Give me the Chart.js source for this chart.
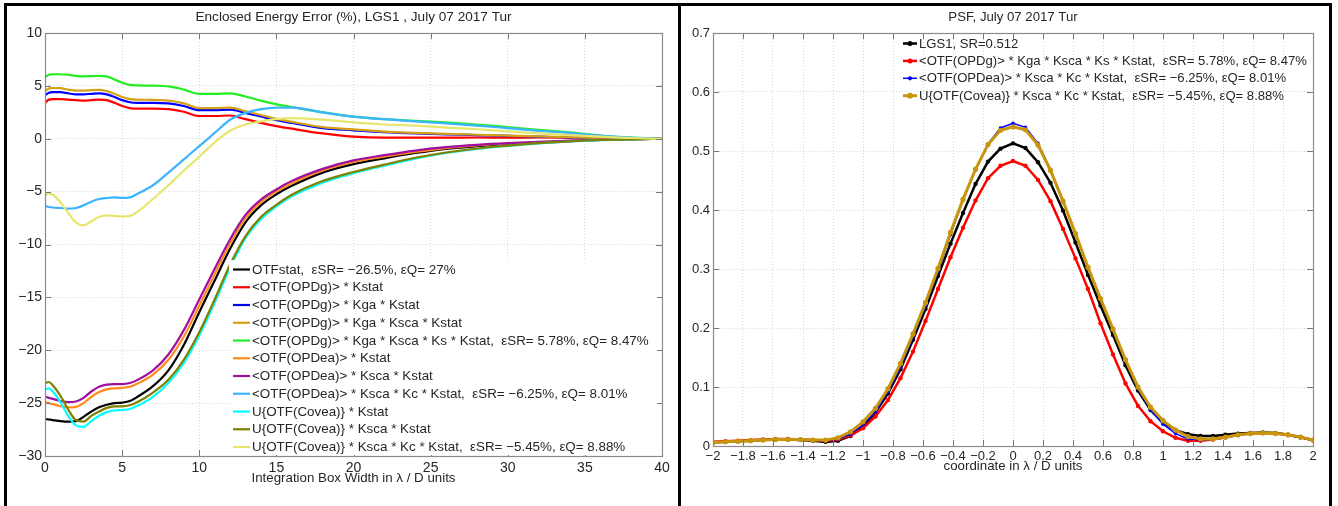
<!DOCTYPE html>
<html>
<head>
<meta charset="utf-8">
<script src="https://cdn.jsdelivr.net/npm/chart.js@4.4.1/dist/chart.umd.min.js"></script>
<style>
html,body{margin:0;padding:0;background:#fff;}
body{width:1338px;height:506px;position:relative;overflow:hidden;}
#frame{position:absolute;left:4px;top:3px;width:1322px;height:520px;border:3px solid #000;}
#divider{position:absolute;left:678px;top:3px;width:3px;height:510px;background:#000;}
#eeChart{position:absolute;left:0;top:0;}
#psfChart{position:absolute;left:681px;top:0;}
</style>
</head>
<body>
<div id="frame"></div>
<div id="divider"></div>
<canvas id="eeChart" width="678" height="506"></canvas>
<canvas id="psfChart" width="657" height="506"></canvas>
<script>
// ---------- left panel: enclosed energy error (%) vs box width ----------
const eeX = [0,0.25,0.5,1,1.5,2,2.5,3,3.5,4,4.5,5,5.5,6,7,8,9,10,11,12,13,14,15,16,18,20,22,24,26,28,30,32,34,36,38,40];

const eeOtfStat   = [-26.5,-26.55,-26.6,-26.7,-26.75,-26.7,-26.3,-25.8,-25.4,-25.15,-25.0,-24.95,-24.8,-24.4,-23.4,-21.9,-19.5,-16.4,-13.4,-10.4,-7.9,-6.3,-5.25,-4.45,-3.2,-2.4,-1.85,-1.35,-0.95,-0.7,-0.5,-0.35,-0.22,-0.12,-0.05,0];
const eeOpdg      = [3.4,3.7,3.75,3.75,3.7,3.65,3.6,3.65,3.7,3.65,3.4,3.1,2.9,2.85,2.85,2.8,2.55,2.15,2.15,2.2,1.85,1.5,1.2,0.95,0.5,0.2,0.1,0.1,0.1,0.12,0.1,0.12,0.1,0.05,0.02,0];
const eeOpdgKga   = [4.1,4.35,4.4,4.4,4.3,4.2,4.2,4.25,4.3,4.2,3.95,3.65,3.45,3.4,3.4,3.35,3.1,2.7,2.7,2.75,2.45,2.1,1.75,1.5,1.0,0.8,0.62,0.5,0.42,0.35,0.27,0.2,0.12,0.06,0.02,0];
const eeOpdgKsca  = [4.5,4.75,4.8,4.78,4.65,4.55,4.55,4.6,4.62,4.5,4.25,3.95,3.75,3.7,3.68,3.6,3.35,2.9,2.9,2.95,2.6,2.25,1.88,1.6,1.1,0.88,0.68,0.55,0.46,0.38,0.3,0.22,0.14,0.07,0.03,0];
const eeOpdgKs    = [5.8,6.05,6.1,6.1,6.05,5.95,5.9,5.92,5.95,5.9,5.6,5.3,5.1,5.05,5.02,4.95,4.65,4.25,4.25,4.3,4.0,3.6,3.25,3.0,2.5,2.1,1.85,1.7,1.55,1.35,1.1,0.85,0.6,0.3,0.1,0];
const eeOpdea     = [-24.9,-25.0,-25.1,-25.3,-25.4,-25.35,-25.0,-24.4,-23.95,-23.7,-23.6,-23.55,-23.45,-23.15,-22.3,-20.9,-18.7,-15.8,-12.8,-9.9,-7.5,-6.0,-5.0,-4.2,-3.0,-2.2,-1.7,-1.25,-0.88,-0.63,-0.45,-0.32,-0.2,-0.1,-0.04,0];
const eeOpdeaKsca = [-24.4,-24.5,-24.6,-24.8,-24.9,-24.85,-24.5,-23.9,-23.45,-23.25,-23.2,-23.2,-23.1,-22.8,-21.9,-20.4,-18.1,-15.2,-12.3,-9.5,-7.2,-5.75,-4.8,-4.0,-2.85,-2.05,-1.55,-1.12,-0.8,-0.58,-0.42,-0.3,-0.18,-0.1,-0.04,0];
const eeOpdeaKc   = [-6.35,-6.45,-6.5,-6.55,-6.6,-6.55,-6.3,-5.95,-5.7,-5.6,-5.55,-5.6,-5.55,-5.2,-4.4,-3.2,-1.95,-0.7,0.55,1.8,2.45,2.8,2.95,2.95,2.5,2.1,1.85,1.65,1.45,1.25,1.0,0.75,0.55,0.3,0.1,0];
const eeCovea     = [-23.7,-23.6,-23.9,-24.9,-26.2,-27.1,-27.25,-26.7,-26.2,-25.85,-25.7,-25.65,-25.55,-25.25,-24.4,-23.1,-21.2,-18.6,-15.5,-12.2,-9.4,-7.6,-6.4,-5.45,-4.15,-3.25,-2.55,-1.88,-1.35,-0.95,-0.67,-0.44,-0.26,-0.13,-0.05,0];
const eeCoveaKsca = [-23.1,-23.0,-23.3,-24.3,-25.6,-26.6,-26.75,-26.2,-25.8,-25.45,-25.3,-25.3,-25.2,-24.9,-24.0,-22.8,-20.9,-18.3,-15.2,-11.9,-9.2,-7.4,-6.25,-5.3,-4.0,-3.15,-2.45,-1.8,-1.3,-0.92,-0.65,-0.42,-0.25,-0.12,-0.05,0];
const eeCoveaKc   = [-5.3,-5.2,-5.3,-6.0,-7.0,-7.9,-8.2,-7.8,-7.4,-7.25,-7.3,-7.35,-7.3,-6.9,-5.7,-4.4,-3.0,-1.7,-0.35,0.75,1.35,1.65,1.85,1.95,1.8,1.55,1.35,1.25,1.05,0.9,0.7,0.5,0.35,0.2,0.07,0];

const eeLabels = [
  "OTFstat,  \u03b5SR= \u221226.5%, \u03b5Q= 27%",
  "<OTF(OPDg)> * Kstat",
  "<OTF(OPDg)> * Kga * Kstat",
  "<OTF(OPDg)> * Kga * Ksca * Kstat",
  "<OTF(OPDg)> * Kga * Ksca * Ks * Kstat,  \u03b5SR= 5.78%, \u03b5Q= 8.47%",
  "<OTF(OPDea)> * Kstat",
  "<OTF(OPDea)> * Ksca * Kstat",
  "<OTF(OPDea)> * Ksca * Kc * Kstat,  \u03b5SR= \u22126.25%, \u03b5Q= 8.01%",
  "U{OTF(Covea)} * Kstat",
  "U{OTF(Covea)} * Ksca * Kstat",
  "U{OTF(Covea)} * Ksca * Kc * Kstat,  \u03b5SR= \u22125.45%, \u03b5Q= 8.88%"
];
const eeColors = ["#000000","#ff0000","#0000ff","#d4a017","#22ee22","#ff8c1a","#a010a0","#3cb4ff","#00ffff","#808000","#e6e66e"];
const eeValues = [eeOtfStat,eeOpdg,eeOpdgKga,eeOpdgKsca,eeOpdgKs,eeOpdea,eeOpdeaKsca,eeOpdeaKc,eeCovea,eeCoveaKsca,eeCoveaKc];

// ---------- right panel: PSF cut ----------
const psfX = [];
for(let k=-24;k<=24;k++) psfX.push(k/12);   // sample grid, lambda/D / 12

const psfLgs1  = [0.006,0.007,0.008,0.009,0.010,0.011,0.011,0.010,0.009,0.007,0.009,0.017,0.033,0.057,0.089,0.130,0.180,0.232,0.288,0.343,0.395,0.444,0.482,0.504,
                  0.513,
                  0.505,0.481,0.446,0.399,0.345,0.290,0.238,0.188,0.137,0.094,0.061,0.040,0.027,0.020,0.017,0.017,0.019,0.021,0.022,0.023,0.022,0.019,0.015,0.010];
const psfOpdg  = [0.007,0.008,0.009,0.010,0.011,0.012,0.012,0.011,0.010,0.009,0.011,0.018,0.030,0.050,0.078,0.115,0.160,0.212,0.266,0.320,0.370,0.416,0.454,0.475,
                  0.483,
                  0.475,0.451,0.415,0.368,0.318,0.266,0.208,0.155,0.106,0.068,0.042,0.025,0.014,0.009,0.009,0.011,0.015,0.019,0.021,0.022,0.021,0.019,0.015,0.010];
const psfOpdea = [0.006,0.007,0.008,0.009,0.010,0.011,0.011,0.011,0.010,0.009,0.012,0.020,0.036,0.058,0.092,0.134,0.185,0.238,0.296,0.358,0.416,0.468,0.512,0.539,
                  0.547,
                  0.540,0.513,0.469,0.416,0.360,0.302,0.248,0.196,0.144,0.097,0.061,0.037,0.021,0.012,0.010,0.011,0.014,0.018,0.021,0.022,0.021,0.018,0.014,0.009];
const psfCovea = [0.006,0.007,0.008,0.009,0.010,0.011,0.011,0.011,0.010,0.010,0.014,0.024,0.041,0.064,0.097,0.140,0.190,0.243,0.301,0.362,0.418,0.469,0.511,0.535,
                  0.541,
                  0.536,0.510,0.467,0.415,0.360,0.303,0.250,0.198,0.146,0.100,0.066,0.043,0.027,0.016,0.012,0.012,0.015,0.019,0.021,0.022,0.021,0.019,0.015,0.010];

const psfLabels = [
  "LGS1, SR=0.512",
  "<OTF(OPDg)> * Kga * Ksca * Ks * Kstat,  \u03b5SR= 5.78%, \u03b5Q= 8.47%",
  "<OTF(OPDea)> * Ksca * Kc * Kstat,  \u03b5SR= \u22126.25%, \u03b5Q= 8.01%",
  "U{OTF(Covea)} * Ksca * Kc * Kstat,  \u03b5SR= \u22125.45%, \u03b5Q= 8.88%"
];
const psfColors = ["#000000","#ff0000","#0000ff","#c8960c"];
const psfWidths = [2.5,2.5,1.5,3];
const psfDots   = [2.2,2.2,1.8,2.6];
const psfValues = [psfLgs1,psfOpdg,psfOpdea,psfCovea];

const FONT = '"Liberation Sans", Arial, Helvetica, sans-serif';
const TXT = "#262626";

function minusFmt(v){
  const r = Math.round(v*100)/100;
  return String(r).replace("-", "\u2212");
}

// frame, inward ticks, title, axis title, legend
const matlabDecor = {
  id: "matlabDecor",
  afterDraw(chart, args, o){
    const {ctx, chartArea:a, scales} = chart;
    ctx.save();
    // inward ticks
    ctx.strokeStyle = "#777"; ctx.lineWidth = 1;
    ctx.beginPath();
    scales.x.ticks.forEach(t=>{
      const px = Math.round(scales.x.getPixelForValue(t.value))+0.5;
      ctx.moveTo(px, a.bottom); ctx.lineTo(px, a.bottom-o.tick);
      ctx.moveTo(px, a.top); ctx.lineTo(px, a.top+o.tick);
    });
    scales.y.ticks.forEach(t=>{
      const py = Math.round(scales.y.getPixelForValue(t.value))+0.5;
      ctx.moveTo(a.left, py); ctx.lineTo(a.left+o.tick, py);
      ctx.moveTo(a.right, py); ctx.lineTo(a.right-o.tick, py);
    });
    ctx.stroke();
    ctx.strokeStyle = "#8a8a8a"; ctx.lineWidth = 1.2;
    ctx.strokeRect(Math.round(a.left)+0.5, Math.round(a.top)+0.5, Math.round(a.right-a.left), Math.round(a.bottom-a.top));

    // title + axis title
    ctx.fillStyle = TXT;
    ctx.textAlign = "center"; ctx.textBaseline = "middle";
    const cx = (a.left+a.right)/2;
    ctx.font = o.titleSize + "px " + FONT;
    ctx.fillText(o.title, cx, o.titleY);
    ctx.font = "13.3px " + FONT;
    ctx.fillText(o.xTitle, cx, o.xTitleY);

    // legend
    const L = o.legend;
    if(L.bg){
      ctx.fillStyle = "#fff";
      ctx.fillRect(L.bg[0], L.bg[1], L.bg[2], L.bg[3]);
    }
    ctx.textAlign = "left";
    ctx.font = L.font + "px " + FONT;
    chart.data.datasets.forEach((ds,i)=>{
      const y = L.y + i*L.dy;
      ctx.strokeStyle = ds.borderColor;
      ctx.lineWidth = ds.borderWidth;
      ctx.beginPath(); ctx.moveTo(L.x, y); ctx.lineTo(L.x+L.w, y); ctx.stroke();
      if(ds.pointRadius > 0){
        ctx.fillStyle = ds.borderColor;
        ctx.beginPath(); ctx.arc(L.x+L.w/2, y, ds.pointRadius+0.3, 0, Math.PI*2); ctx.fill();
      }
      ctx.fillStyle = TXT;
      ctx.fillText(ds.label, L.x+L.w+2, y+0.5);
    });
    ctx.restore();
  }
};

function axisOpts(min, max, step, size, pad, fit){
  return {
    type: "linear", min, max,
    ticks: { stepSize: step, padding: pad, color: TXT, font: {family: FONT, size}, maxRotation: 0, autoSkip: false,
             callback: v => minusFmt(v) },
    grid: { color: "#d8d8d8", lineWidth: 1, drawTicks: false },
    border: { display: false, dash: [1,2] },
    afterFit: fit
  };
}

new Chart(document.getElementById("eeChart"), {
  type: "line",
  data: {
    datasets: eeValues.map((vals,i)=>({
      label: eeLabels[i],
      data: eeX.map((x,j)=>({x, y: vals[j]})),
      borderColor: eeColors[i],
      backgroundColor: eeColors[i],
      borderWidth: 2.2,
      pointRadius: 0,
      cubicInterpolationMode: "monotone",
      fill: false,
      order: -i
    }))
  },
  options: {
    responsive: false, animation: false,
    layout: { padding: { left: 0, right: 16, top: 33, bottom: 0 } },
    scales: {
      x: axisOpts(0, 40, 5, 14, 4, s=>{ s.height = 50; }),
      y: axisOpts(-30, 10, 5, 14, 3, s=>{ s.width = 45; })
    },
    plugins: {
      legend: { display: false }, tooltip: { enabled: false },
      matlabDecor: {
        tick: 6, title: "Enclosed Energy Error (%), LGS1 , July 07 2017 Tur", titleY: 17, titleSize: 13.6,
        xTitle: "Integration Box Width in \u03bb / D units", xTitleY: 478,
        legend: { x: 233, y: 269.5, dy: 17.75, w: 17, font: 13.4, bg: [229, 260, 428, 195] }
      }
    }
  },
  plugins: [matlabDecor]
});

new Chart(document.getElementById("psfChart"), {
  type: "line",
  data: {
    datasets: psfValues.map((vals,i)=>({
      label: psfLabels[i],
      data: psfX.map((x,j)=>({x, y: vals[j]})),
      borderColor: psfColors[i],
      backgroundColor: psfColors[i],
      borderWidth: psfWidths[i],
      pointRadius: psfDots[i],
      pointBorderWidth: 0,
      tension: 0,
      fill: false,
      order: -i
    }))
  },
  options: {
    responsive: false, animation: false,
    layout: { padding: { left: 0, right: 25, top: 33, bottom: 0 } },
    scales: {
      x: axisOpts(-2, 2, 0.2, 13, 3, s=>{ s.height = 60; }),
      y: axisOpts(0, 0.7, 0.1, 13, 3, s=>{ s.width = 32; })
    },
    plugins: {
      legend: { display: false }, tooltip: { enabled: false },
      matlabDecor: {
        tick: 6, title: "PSF, July 07 2017 Tur", titleY: 17, titleSize: 13.2,
        xTitle: "coordinate in \u03bb / D units", xTitleY: 466,
        legend: { x: 222, y: 43.5, dy: 17.4, w: 14, font: 13.1, bg: null }
      }
    }
  },
  plugins: [matlabDecor]
});
</script>
</body>
</html>
